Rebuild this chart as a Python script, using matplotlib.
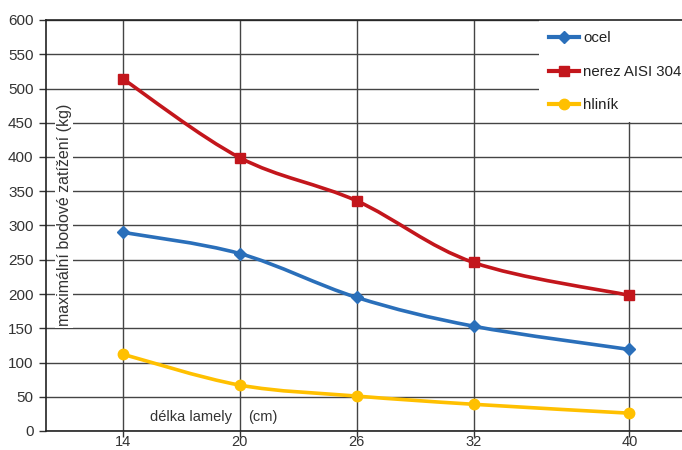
import matplotlib
matplotlib.use("Agg")
import matplotlib.pyplot as plt
from matplotlib.path import Path
from matplotlib.patches import PathPatch, Rectangle
from matplotlib.lines import Line2D

plt.rcParams['font.family'] = ['Liberation Sans', 'DejaVu Sans']

lengths = [14, 20, 26, 32, 40]
ocel = [290, 259, 195, 153, 119]
nerez = [514, 399, 336, 246, 198]
hlinik = [112, 67, 51, 39, 26]
series_names = ["ocel", "nerez AISI 304", "hliník"]
colors = ["#2a6fba", "#c3161c", "#ffc000"]
markers = ["D", "s", "o"]
msizes = [6, 7.5, 7.5]
yticks = [0, 50, 100, 150, 200, 250, 300, 350, 400, 450, 500, 550, 600]

W, H = 682, 450
fig = plt.figure(figsize=(W / 100, H / 100), dpi=100)
ax = fig.add_axes([46 / W, 19 / H, (W - 46) / W, 411 / H])
ax.set_xlim(10.05, 42.7)
ax.set_ylim(0, 600)
ax.set_xticks(lengths)
ax.set_yticks(yticks)
ax.tick_params(axis='both', labelsize=11, colors='#333333', length=5, width=1, direction='out')
ax.tick_params(axis='x', pad=-1, length=4, labelsize=10.5)
ax.tick_params(axis='y', pad=4)
for s in ['top', 'right']:
    ax.spines[s].set_visible(False)
for s in ['left', 'bottom']:
    ax.spines[s].set_color('#222222')
    ax.spines[s].set_linewidth(1.2)
ax.grid(True, color='#444444', linewidth=1.0, zorder=1)
ax.set_axisbelow(True)


def smooth_path(xs, ys):
    verts = [(xs[0], ys[0])]
    codes = [Path.MOVETO]
    n = len(xs)
    for i in range(n - 1):
        x0, y0 = (xs[i - 1], ys[i - 1]) if i > 0 else (xs[i], ys[i])
        x1, y1 = xs[i], ys[i]
        x2, y2 = xs[i + 1], ys[i + 1]
        x3, y3 = (xs[i + 2], ys[i + 2]) if i + 2 < n else (xs[i + 1], ys[i + 1])
        c1 = (x1 + (x2 - x0) / 6, y1 + (y2 - y0) / 6)
        c2 = (x2 - (x3 - x1) / 6, y2 - (y3 - y1) / 6)
        verts += [c1, c2, (x2, y2)]
        codes += [Path.CURVE4] * 3
    return Path(verts, codes)


handles = []
for vals, name, c, m, ms in zip([ocel, nerez, hlinik], series_names, colors, markers, msizes):
    p = PathPatch(smooth_path(lengths, vals), facecolor='none', edgecolor=c,
                  linewidth=2.6, zorder=3, capstyle='round', joinstyle='round')
    ax.add_patch(p)
    ax.plot(lengths, vals, linestyle='none', marker=m, markersize=ms, color=c,
            markeredgecolor=c, zorder=4, clip_on=False)
    handles.append(Line2D([], [], color=c, linewidth=3, marker=m, markersize=ms,
                          markeredgecolor=c))

# white legend area
ax.add_patch(Rectangle((493 / 636, 310 / 412), 0.3, 0.3, transform=ax.transAxes,
                       facecolor='white', edgecolor='none', zorder=2.5, clip_on=False))
ax.plot([0, 1], [1, 1], transform=ax.transAxes, color='#222222', linewidth=1.2,
        zorder=2.6, clip_on=False)
leg = ax.legend(handles, series_names, loc='upper left',
                bbox_to_anchor=(492 / 636, 1.0), frameon=False, fontsize=10.8,
                labelspacing=1.3, handlelength=2.0, handletextpad=0.25,
                borderpad=0.25, labelcolor='#222222')

ax.text(64 / W, 1 - 215 / H, "maximální bodové zatížení (kg)", transform=fig.transFigure,
        rotation=90, ha='center', va='center', fontsize=11.5, color='#333333',
        bbox=dict(facecolor='white', edgecolor='none', pad=1), zorder=5)
ax.text(191 / W, 1 - 417 / H, "délka lamely", transform=fig.transFigure,
        ha='center', va='center', fontsize=10.5, color='#333333', zorder=5)
ax.text(263 / W, 1 - 417 / H, "(cm)", transform=fig.transFigure,
        ha='center', va='center', fontsize=10.5, color='#333333', zorder=5)

fig.savefig("out.png", dpi=100)
